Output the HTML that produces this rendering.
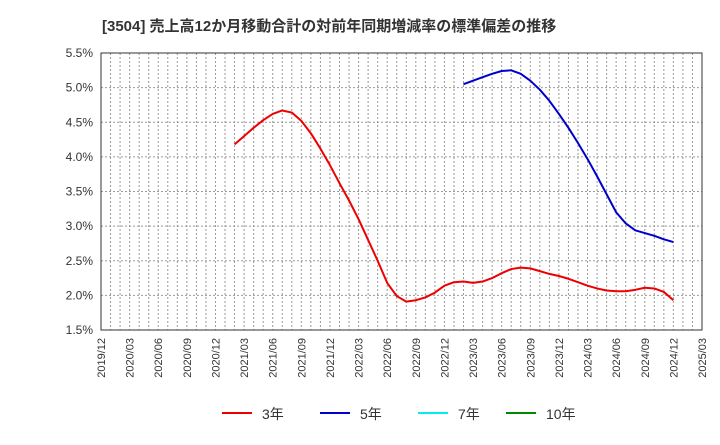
<!DOCTYPE html>
<html><head><meta charset="utf-8"><style>
body{margin:0;background:#fff;}
svg text{font-family:"Liberation Sans","Noto Sans CJK JP",sans-serif;}
</style></head><body>
<svg width="720" height="440" xmlns="http://www.w3.org/2000/svg">
<text x="102" y="31" font-size="15" font-weight="bold" fill="#333">[3504]  売上高12か月移動合計の対前年同期増減率の標準偏差の推移</text>
<g id="grid"></g>
<g id="yaxis"></g>
<g id="xaxis"></g>
<g id="series"></g>
<rect x="101" y="53" width="601" height="277" fill="none" stroke="#333" stroke-width="1"/>
<g>
<g><line x1="222" y1="413" x2="252" y2="413" stroke="#e00" stroke-width="2"/><text x="262" y="419" font-size="14" fill="#333">3年</text></g>
<g><line x1="320" y1="413" x2="350" y2="413" stroke="#00c" stroke-width="2"/><text x="360" y="419" font-size="14" fill="#333">5年</text></g>
<g><line x1="418" y1="413" x2="448" y2="413" stroke="#0ee" stroke-width="2"/><text x="458" y="419" font-size="14" fill="#333">7年</text></g>
<g><line x1="506" y1="413" x2="536" y2="413" stroke="#080" stroke-width="2"/><text x="546" y="419" font-size="14" fill="#333">10年</text></g>
</g>
</svg>
<script>
const xTickLabels=["2019/12","2020/03","2020/06","2020/09","2020/12","2021/03","2021/06","2021/09","2021/12","2022/03","2022/06","2022/09","2022/12","2023/03","2023/06","2023/09","2023/12","2024/03","2024/06","2024/09","2024/12","2025/03"];
const yTicks=[1.5,2.0,2.5,3.0,3.5,4.0,4.5,5.0,5.5];
const red3Start=14; // month index of 2021/02
const red3=[4.18,4.30,4.42,4.53,4.62,4.67,4.64,4.52,4.34,4.12,3.88,3.62,3.37,3.10,2.80,2.50,2.18,1.99,1.91,1.93,1.97,2.04,2.14,2.19,2.20,2.18,2.20,2.25,2.32,2.38,2.40,2.39,2.35,2.31,2.28,2.24,2.19,2.14,2.10,2.07,2.06,2.06,2.08,2.11,2.10,2.05,1.93];
const blue5Start=38; // 2023/02
const blue5=[5.05,5.10,5.15,5.20,5.24,5.25,5.20,5.10,4.97,4.81,4.62,4.42,4.20,3.97,3.72,3.46,3.20,3.04,2.94,2.90,2.86,2.81,2.77];
const NS="http://www.w3.org/2000/svg";
const X0=101,X1=702,Y0=330,Y1=53,NM=63;
const xs=m=>X0+(X1-X0)*m/NM;
const ys=v=>Y0-(v-1.5)/(5.5-1.5)*(Y0-Y1);
function mk(t,a,p){const e=document.createElementNS(NS,t);for(const k in a)e.setAttribute(k,a[k]);p.appendChild(e);return e;}
const grid=document.getElementById('grid'),ya=document.getElementById('yaxis'),xa=document.getElementById('xaxis'),se=document.getElementById('series');
for(let m=1;m<NM;m++){const l=mk('line',{x1:xs(m),x2:xs(m),y1:Y1,y2:Y0,stroke:'#999','stroke-dasharray':'2,2','stroke-width':1},grid);

}
yTicks.forEach(v=>{const y=ys(v);
if(v>1.5&&v<5.5){const l=mk('line',{x1:X0,x2:X1,y1:y,y2:y,stroke:'#999','stroke-dasharray':'2,2'},grid);

}
const t=mk('text',{x:93,y:y+4,'font-size':12,fill:'#333','text-anchor':'end'},ya);t.textContent=v.toFixed(1)+'%';

});
xTickLabels.forEach((s,i)=>{const x=xs(i*3);const t=mk('text',{x:0,y:0,'font-size':11,fill:'#333','text-anchor':'end',transform:`translate(${x+4},338) rotate(-90)`},xa);t.textContent=s;

});
function line(d,st,c,n){const p=mk('polyline',{points:d.map((v,i)=>xs(st+i)+','+ys(v)).join(' '),fill:'none',stroke:c,'stroke-width':2,'stroke-linejoin':'round'},se);

}
line(red3,red3Start,'#e00','line-3y');
line(blue5,blue5Start,'#00c','line-5y');
</script>
</body></html>
